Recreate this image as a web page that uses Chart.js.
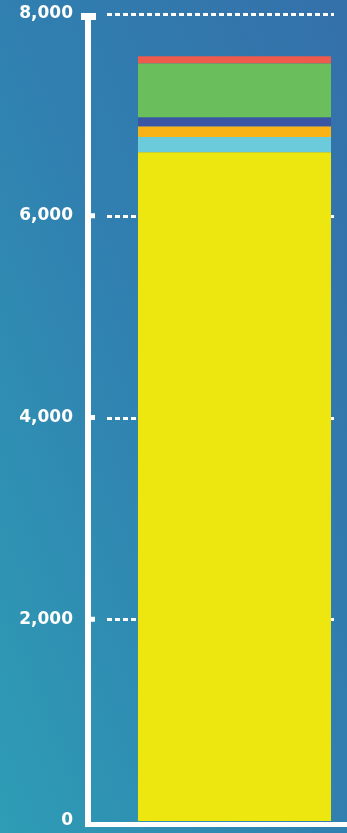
<!DOCTYPE html>
<html>
<head>
<meta charset="utf-8">
<script src="https://cdn.jsdelivr.net/npm/chart.js@4"></script>
<style>
  html, body { margin: 0; padding: 0; }
  body {
    width: 347px; height: 833px; overflow: hidden;
    background: linear-gradient(to top right, #2e9db5 0%, #3080b0 50%, #3470aa 100%);
  }
  #wrap { position: relative; width: 347px; height: 833px; }
</style>
</head>
<body>
<div id="wrap"><canvas id="chart"></canvas></div>
<script>
// Data for the stacked column
const categories = ['Total'];
const segmentNames = ['Segment 1', 'Segment 2', 'Segment 3', 'Segment 4', 'Segment 5', 'Segment 6'];
const segmentValues = [6630, 150, 105, 90, 535, 70];
const segmentColors = ['#ede70f', '#6bcbda', '#fab317', '#3a55a4', '#6abe5b', '#ee5a4c'];
const yTicks = [0, 2000, 4000, 6000, 8000];

// Axis / gridline drawing (white L-shaped axis, stubs, dashed grid)
const axisPlugin = {
    id: 'axisDecor',
    beforeDatasetsDraw(chart) {
        const { ctx, chartArea, scales } = chart;
        const axisX = chartArea.left - 34;
        ctx.save();
        ctx.strokeStyle = '#ffffff';
        ctx.lineWidth = 3;
        ctx.setLineDash([5, 3]);
        yTicks.forEach(v => {
            if (v === 0) return;
            const y = Math.round(scales.y.getPixelForValue(v)) + 0.5;
            ctx.beginPath();
            ctx.moveTo(axisX + 19, y);
            ctx.lineTo(chartArea.right - 13, y);
            ctx.stroke();
        });
        ctx.restore();
    },
    afterDatasetsDraw(chart) {
        const { ctx, chartArea, scales } = chart;
        const axisX = chartArea.left - 34;
        const zeroY = scales.y.getPixelForValue(0);
        const topY = scales.y.getPixelForValue(8000);
        ctx.save();
        ctx.fillStyle = '#ffffff';
        // vertical axis
        ctx.fillRect(axisX - 3, topY, 6, zeroY + 6 - topY);
        // top cap
        ctx.fillRect(axisX - 7, topY - 1, 15, 7);
        // stubs
        yTicks.forEach(v => {
            if (v === 0 || v === 8000) return;
            const y = scales.y.getPixelForValue(v);
            ctx.fillRect(axisX, y - 2.5, 7, 5);
        });
        // bottom axis
        ctx.fillRect(axisX - 3, zeroY + 1, chart.width - axisX + 3, 5);
        ctx.restore();
    }
};

const ctx = document.getElementById('chart').getContext('2d');
const chart = new Chart(ctx, {
    type: 'bar',
    data: {
        labels: categories,
        datasets: segmentValues.map((v, i) => ({
            label: segmentNames[i],
            data: [v],
            backgroundColor: segmentColors[i],
            borderWidth: 0,
            barPercentage: 0.858,
            categoryPercentage: 1
        }))
    },
    options: {
        responsive: true,
        maintainAspectRatio: false,
        animation: false,
        layout: { padding: { top: 14, bottom: 12, left: 0, right: 0 } },
        scales: {
            x: {
                stacked: true,
                display: false
            },
            y: {
                stacked: true,
                min: 0,
                max: 8000,
                afterFit: s => { s.width = 122; s.paddingTop = 0; s.paddingBottom = 0; },
                afterBuildTicks: s => { s.ticks = yTicks.map(v => ({ value: v })); },
                grid: { display: false, drawTicks: false },
                border: { display: false },
                ticks: {
                    padding: 49,
                    color: '#ffffff',
                    font: { family: 'DejaVu Sans', size: 17, weight: 'bold' },
                    callback: v => v.toLocaleString('en-US')
                }
            }
        },
        plugins: {
            legend: { display: false },
            tooltip: { enabled: false }
        }
    },
    plugins: [axisPlugin]
});
</script>
</body>
</html>
